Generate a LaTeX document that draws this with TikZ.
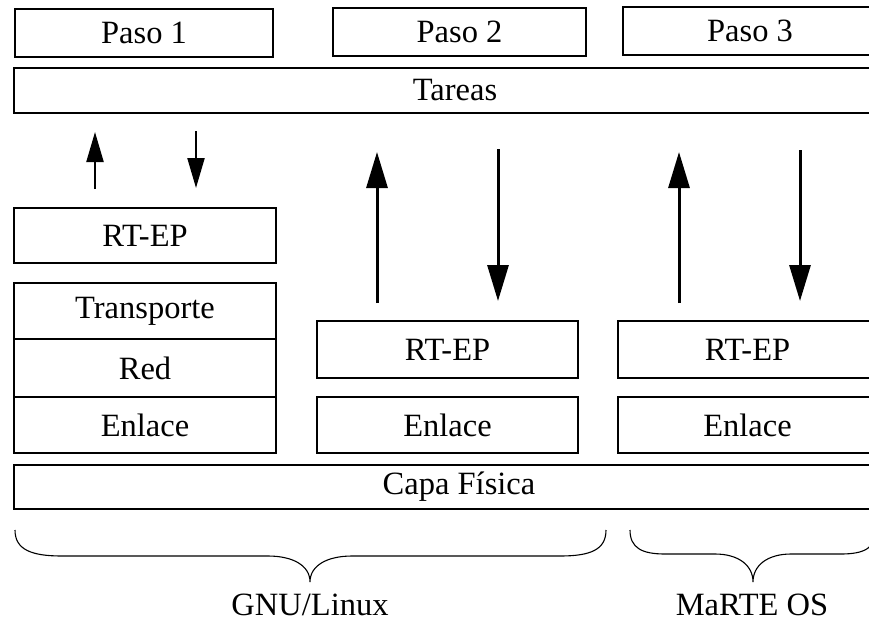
\documentclass[tikz,border=0pt]{standalone}
\usepackage{fontspec}
\setmainfont{Liberation Serif}
\usetikzlibrary{arrows.meta}
\tikzset{
  layer/.style={draw, line width=1.8pt, rectangle, inner sep=0pt, font=\fontsize{32.5}{39}\selectfont},
  bigarrow/.style={line width=3pt, -{Triangle[length=36pt,width=21pt]}},
  smallarrow/.style={line width=2.2pt, -{Triangle[length=30pt,width=17pt]}},
  bracket/.style={line width=1.1pt},
  oslabel/.style={inner sep=0pt, font=\fontsize{32.5}{39}\selectfont}
}
\begin{document}
\begin{tikzpicture}[x=1pt,y=-1pt]
\clip (0,0) rectangle (869,629);
\useasboundingbox (0,0) rectangle (869,629);

% step boxes and the task layer
\node[layer, minimum width=258pt, minimum height=48pt] (p1) at (144,33) {Paso 1};
\node[layer, minimum width=253pt, minimum height=48pt] (p2) at (459.5,32) {Paso 2};
\node[layer, minimum width=254pt, minimum height=48pt] (p3) at (750,31) {Paso 3};
\node[layer, minimum width=882pt, minimum height=45pt] (tareas) at (455,90.5) {Tareas};

% GNU/Linux stack with full protocol layers
\node[layer, minimum width=262pt, minimum height=55pt] (rt1) at (145,235.5) {RT-EP};
\node[layer, minimum width=262pt, minimum height=56pt] (tr) at (145,311) {Transporte};
\node[layer, minimum width=262pt, minimum height=58pt] (red) at (145,368) {Red};
\node[layer, minimum width=262pt, minimum height=56pt] (enl1) at (145,425) {Enlace};

% GNU/Linux stack without transport/network
\node[layer, minimum width=261pt, minimum height=57pt] (rt2) at (447.5,349.5) {RT-EP};
\node[layer, minimum width=261pt, minimum height=56pt] (enl2) at (447.5,425) {Enlace};

% MaRTE OS stack
\node[layer, minimum width=259pt, minimum height=57pt] (rt3) at (747.5,349.5) {RT-EP};
\node[layer, minimum width=259pt, minimum height=56pt] (enl3) at (747.5,425) {Enlace};

% physical layer
\node[layer, minimum width=890pt, minimum height=44pt] (capa) at (459,487) {Capa Física};

% arrow end points
\coordinate (a1s) at (95,189);  \coordinate (a1e) at (95,132);
\coordinate (b1s) at (196,131); \coordinate (b1e) at (196,188);
\coordinate (a2s) at (377,303); \coordinate (a2e) at (377,152);
\coordinate (b2s) at (498,149); \coordinate (b2e) at (498,301);
\coordinate (a3s) at (679,303); \coordinate (a3e) at (679,152);
\coordinate (b3s) at (800,150); \coordinate (b3e) at (800,301);

\draw[smallarrow] (a1s) -- (a1e);
\draw[smallarrow] (b1s) -- (b1e);
\draw[bigarrow] (a2s) -- (a2e);
\draw[bigarrow] (b2s) -- (b2e);
\draw[bigarrow] (a3s) -- (a3e);
\draw[bigarrow] (b3s) -- (b3e);

% braces grouping the stacks
\draw[bracket] (15,530) .. controls (15,550) and (32,556) .. (62,556)
  -- (268,556) .. controls (292,556) and (310,565) .. (310,582)
  .. controls (310,565) and (328,556) .. (352,556)
  -- (560,556) .. controls (590,556) and (606,550) .. (606,530);
\draw[bracket] (630,530) .. controls (630,548) and (642,554) .. (665,554)
  -- (715,554) .. controls (738,554) and (753,565) .. (753,582)
  .. controls (753,565) and (768,554) .. (791,554)
  -- (841,554) .. controls (864,554) and (876,548) .. (876,530);

\node[oslabel] (gnu) at (310,605) {GNU/Linux};
\node[oslabel] (marte) at (752,605) {MaRTE OS};
\end{tikzpicture}
\end{document}
